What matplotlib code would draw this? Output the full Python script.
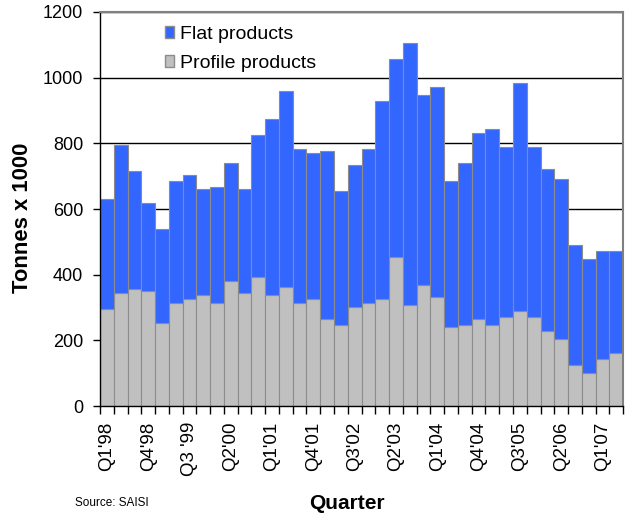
import numpy as np
import matplotlib
matplotlib.use("Agg")
import matplotlib.pyplot as plt
from matplotlib.patches import Patch

plt.rcParams['font.family'] = ['Liberation Sans', 'DejaVu Sans']

# quarters Q1'98 .. Q2'07
quarters = []
for yr in range(1998, 2008):
    for q in range(1, 5):
        quarters.append("Q%d'%02d" % (q, yr % 100))
quarters = quarters[:38]

total = [630, 794, 715, 618, 539, 685, 703, 660, 666, 739,
         660, 825, 873, 958, 782, 770, 776, 654, 733, 782,
         928, 1056, 1105, 946, 971, 685, 739, 831, 843, 788,
         983, 788, 721, 691, 490, 447, 472, 472]
profile = [295, 344, 356, 350, 253, 314, 326, 339, 314, 380,
           344, 393, 339, 363, 314, 326, 266, 247, 302, 314,
           326, 453, 308, 369, 333, 241, 247, 266, 247, 272,
           290, 272, 229, 205, 126, 102, 144, 162]
flat = [t - p for t, p in zip(total, profile)]

# every third quarter gets a label
label_idx = list(range(0, 38, 3))
label_txt = [quarters[i] for i in label_idx]
label_txt[2] = "Q3 '99"

fig = plt.figure(figsize=(6.25, 5.18), dpi=100)
ax = fig.add_axes([0.16, 0.216, 0.837, 0.761])

x = np.arange(len(total))
ax.bar(x, profile, width=1.0, color='#c0c0c0', edgecolor='#8c8c8c', linewidth=0.8,
       zorder=2)
ax.bar(x, flat, bottom=profile, width=1.0, color='#3366ff', edgecolor='#8c8c8c',
       linewidth=0.8, zorder=2)

ax.set_xlim(-0.5, len(total) - 0.5)
ax.set_ylim(0, 1200)
ax.set_yticks(range(0, 1201, 200))
ax.yaxis.grid(True, color='black', linewidth=1.0, zorder=0)
ax.set_axisbelow(True)

ax.set_xticks(label_idx)
ax.set_xticklabels(label_txt, rotation=90, fontsize=13.5)
ax.set_xticks(np.arange(-0.5, len(total), 1), minor=True)
ax.tick_params(axis='x', which='major', length=0, pad=11)
ax.tick_params(axis='x', which='minor', length=6, width=1, direction='out')
ax.tick_params(axis='y', length=5, width=1, labelsize=13, pad=7)

for s in ['left', 'bottom']:
    ax.spines[s].set_color('black')
    ax.spines[s].set_linewidth(1.0)
for s in ['top', 'right']:
    ax.spines[s].set_color('#808080')
    ax.spines[s].set_linewidth(1.5)

ax.set_ylabel("Tonnes x 1000", fontsize=15.8, fontweight='bold')
ax.yaxis.set_label_coords(-0.128, 0.477)
ax.set_xlabel("Quarter", fontsize=15, fontweight='bold')
ax.xaxis.set_label_coords(0.472, -0.246)
ax.xaxis.label.set_va('center')

handles = [Patch(facecolor='#3366ff', edgecolor='#8c8c8c', label='Flat products'),
           Patch(facecolor='#c0c0c0', edgecolor='#8c8c8c', label='Profile products')]
ax.legend(handles=handles, loc='upper left', bbox_to_anchor=(0.124, 0.965),
          frameon=False, fontsize=14, handlelength=0.49, handleheight=0.6,
          handletextpad=0.3, labelspacing=0.61, borderpad=0, borderaxespad=0)

fig.text(0.12, 0.029, "Source: SAISI", fontsize=8.5, va='center')

fig.savefig("out.png", dpi=100)
